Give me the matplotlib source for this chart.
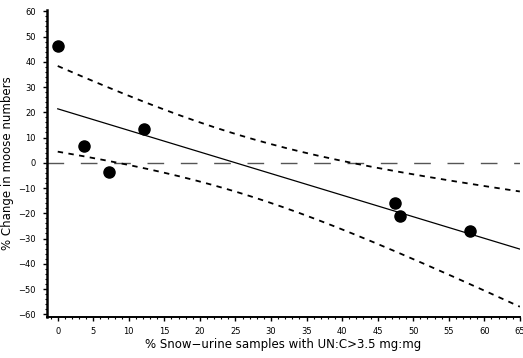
#!/usr/bin/env python3

"""
Moose population change against snow-urine UN:C ratio, with a linear fit
and 90% confidence band for the mean.
"""

import matplotlib
matplotlib.use("Agg")
import matplotlib.pyplot as plt
import numpy as np
from matplotlib.ticker import MultipleLocator

# --------------------------------- DATA --------------------------------------
pct_samples = [0.0, 3.7, 7.2, 12.1, 47.5, 48.2, 58.0]
pct_change = [46.3, 6.8, -3.6, 13.4, -16.1, -21.0, -27.2]
x_ticks = list(range(0, 70, 5))
y_ticks = list(range(-60, 70, 10))
# --------------------------------- DATA --------------------------------------


def confidence_band(x, y, grid, t_value=2.015):
    """
    Least-squares line and confidence band of the mean over 'grid'.
    t_value defaults to t(0.95, df=5) -> 90% two-sided band.
    """
    x = np.asarray(x)
    y = np.asarray(y)
    slope, intercept = np.polyfit(x, y, 1)
    resid = y - (slope * x + intercept)
    s = np.sqrt(np.sum(resid ** 2) / (len(x) - 2))
    sxx = np.sum((x - x.mean()) ** 2)
    fit = slope * grid + intercept
    half = t_value * s * np.sqrt(1.0 / len(x) + (grid - x.mean()) ** 2 / sxx)
    return fit, fit - half, fit + half


def main():
    fig = plt.figure(figsize=(5.23, 3.58), dpi=100)
    ax = fig.add_axes([0.090, 0.115, 0.904, 0.857])

    grid = np.linspace(0, 65, 200)
    fit, lower, upper = confidence_band(pct_samples, pct_change, grid)

    # zero reference line
    ax.axhline(0, color="#555555", linewidth=1.0, linestyle=(0, (12, 12)))
    ax.plot(grid, fit, color="black", linewidth=0.9)
    ax.plot(grid, upper, color="black", linewidth=1.3, linestyle=(0, (3, 3)))
    ax.plot(grid, lower, color="black", linewidth=1.3, linestyle=(0, (3, 3)))
    ax.plot(pct_samples, pct_change, "o", color="black", markersize=8)

    ax.set_xlim(-1.5, 65)
    ax.set_ylim(-61, 60.5)
    ax.set_xticks(x_ticks)
    ax.set_yticks(y_ticks)
    ax.set_yticklabels([str(v).replace("-", "\u2212") for v in y_ticks])
    ax.xaxis.set_minor_locator(MultipleLocator(1))
    ax.yaxis.set_minor_locator(MultipleLocator(2))
    ax.tick_params(which="major", length=3, width=1, labelsize=6, pad=5)
    ax.tick_params(axis="x", which="major", pad=4)
    ax.tick_params(which="minor", length=1.5, width=0.8)

    for side in ("top", "right"):
        ax.spines[side].set_visible(False)
    ax.spines["left"].set_linewidth(1.8)
    ax.spines["bottom"].set_linewidth(1.4)

    ax.set_xlabel("% Snow\u2212urine samples with UN:C>3.5 mg:mg",
                  fontsize=8.5, labelpad=2)
    ax.set_ylabel("% Change in moose numbers", fontsize=8.5, labelpad=3)

    fig.savefig("out.png", dpi=100)


if __name__ == "__main__":
    main()
